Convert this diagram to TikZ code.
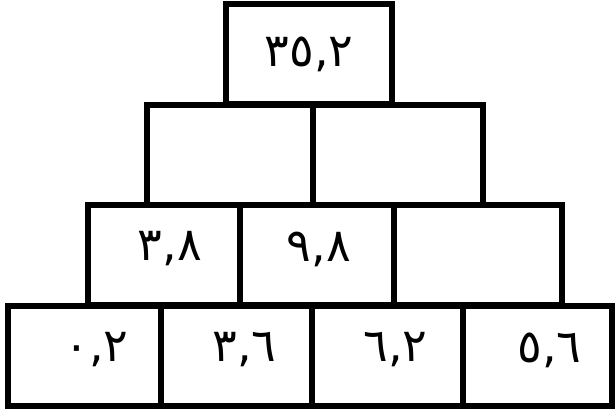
\documentclass[tikz,border=0pt]{standalone}
\usepackage{fontspec}
\newfontfamily\arabicfont[Script=Arabic]{DejaVu Sans}
\usepackage{tikz}
\tikzset{
  pyrBox/.style={
    draw=black,
    line width=2.6pt,
    minimum height=50pt,
    inner sep=0pt,
    font=\arabicfont\fontsize{23}{26}\selectfont
  },
  pyrNum/.style={
    font=\arabicfont\fontsize{23}{26}\selectfont,
    inner sep=0pt
  }
}

\begin{document}
\begin{tikzpicture}[x=0.5pt,y=-0.5pt]
\useasboundingbox (0,0) rectangle (615,415);
% top row
\node[pyrBox, minimum width=83pt] (top) at (309,54) {٣٥,٢};
% second row
\node[pyrBox, minimum width=83pt] (midL) at (230,155) {};
\node[pyrBox, minimum width=85pt] (midR) at (398,155) {};
% third row
\node[pyrBox, minimum width=76pt] (thrA) at (164,255) {};
\node[pyrBox, minimum width=77pt] (thrB) at (317,255) {};
\node[pyrBox, minimum width=84pt] (thrC) at (478,255) {};
% bottom row
\node[pyrBox, minimum width=76.5pt] (botA) at (84.5,356) {};
\node[pyrBox, minimum width=75.5pt] (botB) at (236.5,356) {};
\node[pyrBox, minimum width=75.5pt] (botC) at (387.5,356) {};
\node[pyrBox, minimum width=74.5pt] (botD) at (537.5,356) {};

% numbers
\node[pyrNum] (nThrA) at ([xshift=3pt,yshift=3pt]thrA.center) {٣,٨};
\node[pyrNum] (nThrB) at ([xshift=1pt,yshift=3pt]thrB.center) {٩,٨};
\node[pyrNum] (nBotA) at ([xshift=6pt,yshift=3pt]botA.center) {٠,٢};
\node[pyrNum] (nBotB) at ([xshift=4pt,yshift=3pt]botB.center) {٣,٦};
\node[pyrNum] (nBotC) at ([xshift=4pt,yshift=3pt]botC.center) {٦,٢};
\node[pyrNum] (nBotD) at ([xshift=6pt,yshift=3pt]botD.center) {٥,٦};
\end{tikzpicture}
\end{document}
